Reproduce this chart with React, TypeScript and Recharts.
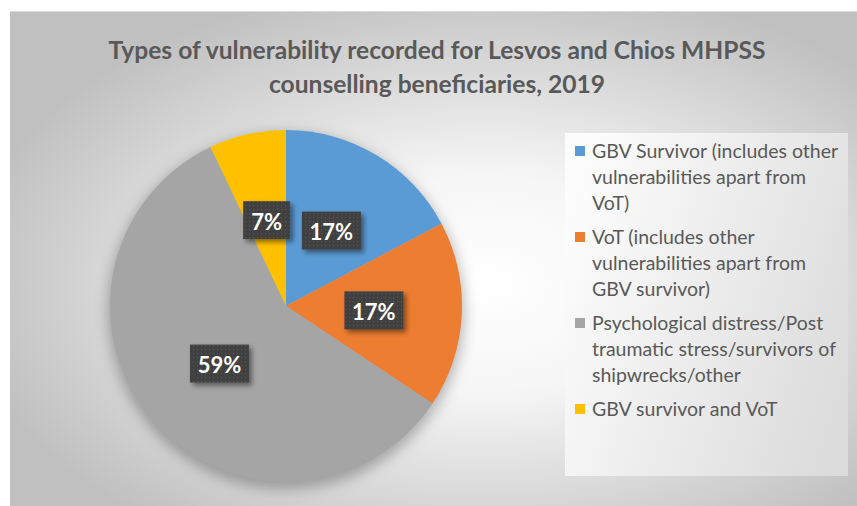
import { PieChart, Pie, Cell, Legend } from 'recharts'

const categories = [
  'GBV Survivor (includes other vulnerabilities apart from VoT)',
  'VoT (includes other vulnerabilities apart from GBV survivor)',
  'Psychological distress/Post traumatic stress/survivors of shipwrecks/other',
  'GBV survivor and VoT',
]
const shares = [17.25, 17.1, 58.6, 7.05]
const colors = ['#5B9BD5', '#ED7D31', '#A5A5A5', '#FFC000']
const legendLines = [
  ['GBV Survivor (includes other', 'vulnerabilities apart from', 'VoT)'],
  ['VoT (includes other', 'vulnerabilities apart from', 'GBV survivor)'],
  ['Psychological distress/Post', 'traumatic stress/survivors of', 'shipwrecks/other'],
  ['GBV survivor and VoT'],
]
const titleLines = [
  'Types of vulnerability recorded for Lesvos and Chios MHPSS',
  'counselling beneficiaries, 2019',
]

const data = categories.map((name, i) => ({ name, value: shares[i] }))

const FONT = 'Lato, "Open Sans", sans-serif'
const RAD = Math.PI / 180

// eslint-disable-next-line @typescript-eslint/no-explicit-any
const renderLabel = ({ cx, cy, midAngle, outerRadius, percent }: any) => {
  const r = outerRadius * 0.5
  const x = cx + r * Math.cos(-midAngle * RAD)
  const y = cy + r * Math.sin(-midAngle * RAD)
  const text = `${Math.round(percent * 100)}%`
  const w = text.length > 2 ? 59 : 47
  const h = 38
  return (
    <g>
      <rect
        x={x - w / 2}
        y={y - h / 2}
        width={w}
        height={h}
        fill="url(#dots)"
        filter="url(#lblShadow)"
      />
      <text
        x={x}
        y={y + 1}
        textAnchor="middle"
        dominantBaseline="central"
        fill="#fff"
        fontFamily={FONT}
        fontWeight={700}
        fontSize={22}
      >
        {text}
      </text>
    </g>
  )
}

const LegendContent = () => (
  <div style={{ fontFamily: FONT, fontSize: 19.5, lineHeight: '26px', color: '#595959' }}>
    {legendLines.map((lines, i) => (
      <div key={i} style={{ position: 'relative', paddingLeft: 17, marginBottom: 8 }}>
        <span
          style={{
            position: 'absolute', left: 0, top: 8, width: 10, height: 10, background: colors[i],
          }}
        />
        {lines.map((l, j) => (
          <div key={j} style={{ whiteSpace: 'nowrap' }}>{l}</div>
        ))}
      </div>
    ))}
  </div>
)

export default function App() {
  return (
    <div style={{ position: 'absolute', left: 0, top: 0, width: 857, height: 506, background: '#fff', overflow: 'hidden' }}>
      <svg width={857} height={506} style={{ position: 'absolute', left: 0, top: 0 }}>
        <defs>
          <radialGradient id="bg" cx="0.56" cy="0.55" r="0.62">
            <stop offset="0" stopColor="#ffffff" />
            <stop offset="0.35" stopColor="#f6f6f6" />
            <stop offset="1" stopColor="#c0c0c0" />
          </radialGradient>
          <linearGradient id="legBg" x1="0" y1="0.3" x2="1" y2="0.7">
            <stop offset="0" stopColor="#fcfcfc" />
            <stop offset="1" stopColor="#dcdcdc" />
          </linearGradient>
          <pattern id="dots" width={4} height={4} patternUnits="userSpaceOnUse">
            <rect width={4} height={4} fill="#404040" />
            <rect x={1} y={1} width={1.2} height={1.2} fill="#565656" />
          </pattern>
          <filter id="lblShadow" x="-30%" y="-30%" width="160%" height="170%">
            <feDropShadow dx={3} dy={3} stdDeviation={2.5} floodColor="#000" floodOpacity={0.45} />
          </filter>
          <filter id="pieBlur" x="-20%" y="-20%" width="140%" height="140%">
            <feGaussianBlur stdDeviation={7} />
          </filter>
        </defs>
        <rect x={10} y={11} width={847} height={495} fill="url(#bg)" />
        <line x1={10} y1={11.5} x2={857} y2={11.5} stroke="#d9d9d9" />
        <rect x={565} y={133} width={283} height={343} fill="url(#legBg)" />
      </svg>
      <div
        style={{
          position: 'absolute', left: 137, top: 33, width: 600, textAlign: 'center',
          fontFamily: FONT, fontWeight: 700, fontSize: 24.6, lineHeight: '34px', color: '#595959',
        }}
      >
        {titleLines.map((t, i) => (
          <div key={i} style={{ whiteSpace: 'nowrap', marginLeft: -100, marginRight: -100 }}>{t}</div>
        ))}
      </div>
      <div style={{ position: 'absolute', left: 0, top: 0 }}>
        <PieChart width={857} height={506}>
          <Pie
            data={data}
            dataKey="value"
            nameKey="name"
            cx={281}
            cy={306}
            outerRadius={178}
            startAngle={90}
            endAngle={-270}
            stroke="none"
            legendType="none"
            isAnimationActive={false}
          >
            {data.map((_, i) => (
              <Cell key={i} fill="#000" fillOpacity={0.28} filter="url(#pieBlur)" />
            ))}
          </Pie>
          <Pie
            data={data}
            dataKey="value"
            nameKey="name"
            cx={281}
            cy={301}
            outerRadius={176}
            startAngle={90}
            endAngle={-270}
            stroke="none"
            label={renderLabel}
            labelLine={false}
            isAnimationActive={false}
          >
            {data.map((_, i) => (
              <Cell key={i} fill={colors[i]} />
            ))}
          </Pie>
          <Legend
            layout="vertical"
            content={<LegendContent />}
            wrapperStyle={{ left: 575, top: 138, width: 280 }}
          />
        </PieChart>
      </div>
    </div>
  )
}
